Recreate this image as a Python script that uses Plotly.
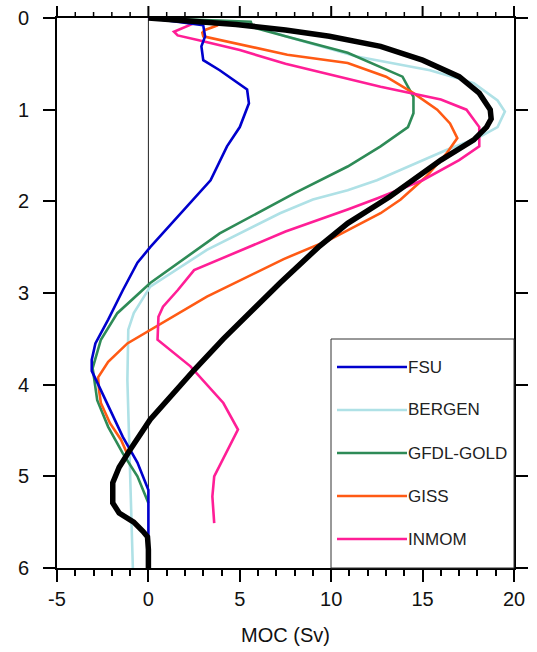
import plotly.graph_objects as go

# Depth (km) and MOC (Sv) for each model
obs_depth = [0, 0.03, 0.07, 0.13, 0.2, 0.31, 0.46, 0.64, 0.82, 1.0, 1.1, 1.19, 1.33, 1.55, 1.77, 1.95, 2.24, 2.5, 2.89, 3.2, 3.5, 3.84, 4.1, 4.38, 4.71, 4.9, 5.07, 5.29, 5.4, 5.5, 5.6, 5.66, 5.8, 6.0]
obs_moc = [0, 2.5, 4.8, 7.5, 9.9, 12.7, 15.0, 17.0, 18.1, 18.7, 18.75, 18.5, 17.8, 16.0, 14.5, 13.2, 10.9, 9.3, 7.2, 5.6, 4.1, 2.5, 1.3, 0.1, -1.0, -1.6, -1.95, -1.95, -1.6, -0.8, -0.3, -0.05, 0, 0]

fsu_depth = [0, 0.08, 0.2, 0.31, 0.46, 0.57, 0.78, 0.93, 1.19, 1.4, 1.77, 2.13, 2.5, 2.67, 2.97, 3.29, 3.55, 3.73, 3.85, 4.06, 4.27, 4.57, 4.85, 5.15, 6.0]
fsu_moc = [0, 3.0, 3.1, 2.9, 3.0, 3.9, 5.4, 5.5, 5.0, 4.3, 3.4, 1.75, 0.1, -0.6, -1.4, -2.2, -2.9, -3.1, -3.1, -2.6, -2.1, -1.4, -0.6, 0, 0]

bergen_depth = [0, 0.06, 0.2, 0.42, 0.57, 0.71, 0.9, 1.02, 1.19, 1.3, 1.44, 1.62, 1.77, 1.88, 1.98, 2.13, 2.53, 2.93, 3.22, 3.4, 3.95, 6.0]
bergen_moc = [0, 5.4, 7.5, 11.4, 15.4, 17.8, 19.1, 19.5, 19.1, 18.1, 16.3, 14.2, 12.5, 10.9, 9.0, 7.2, 3.2, 0.1, -0.8, -1.1, -1.15, -0.85]

gfdl_depth = [0, 0.04, 0.1, 0.2, 0.38, 0.64, 0.86, 1.04, 1.19, 1.4, 1.62, 1.91, 2.35, 2.89, 3.22, 3.51, 3.82, 4.17, 4.46, 4.75, 5.0, 5.29]
gfdl_moc = [0, 5.6, 5.7, 7.5, 10.9, 13.9, 14.5, 14.5, 14.2, 12.7, 10.9, 8.0, 3.9, 0.1, -1.7, -2.6, -3.05, -2.8, -2.2, -1.4, -0.6, 0]

giss_depth = [0, 0.04, 0.04, 0.08, 0.13, 0.16, 0.2, 0.4, 0.49, 0.64, 0.82, 1.0, 1.15, 1.31, 1.48, 1.73, 1.98, 2.13, 2.42, 2.63, 3.04, 3.4, 3.55, 3.75, 3.92, 4.06, 4.2, 4.42, 4.6, 4.78]
giss_moc = [0, 2.7, 3.55, 3.8, 3.1, 2.95, 3.0, 7.6, 10.9, 13.0, 14.5, 15.8, 16.5, 16.9, 16.3, 15.2, 13.8, 12.7, 9.9, 7.4, 3.2, 0.1, -1.15, -2.2, -2.75, -2.7, -2.6, -2.1, -1.5, -1.1]

inmom_depth = [0, 0.04, 0.15, 0.19, 0.24, 0.35, 0.5, 0.75, 0.89, 1.0, 1.19, 1.4, 1.55, 1.77, 1.97, 2.09, 2.33, 2.75, 2.97, 3.15, 3.26, 3.51, 3.8, 4.2, 4.49, 5.0, 5.22, 5.51]
inmom_moc = [0, 2.7, 1.4, 1.6, 2.7, 5.0, 7.5, 12.7, 16.0, 17.4, 18.1, 18.1, 17.0, 15.0, 12.5, 10.9, 7.5, 2.5, 1.6, 0.8, 0.55, 0.5, 2.3, 4.1, 4.9, 3.6, 3.5, 3.6]

model_names = ["FSU", "BERGEN", "GFDL-GOLD", "GISS", "INMOM"]
model_colors = ["#0000CD", "#AFE1E6", "#2E8B57", "#FF5A14", "#FF1E96"]
model_x = [fsu_moc, bergen_moc, gfdl_moc, giss_moc, inmom_moc]
model_y = [fsu_depth, bergen_depth, gfdl_depth, giss_depth, inmom_depth]

x_tickvals = [-5, 0, 5, 10, 15, 20]
x_ticktext = ["-5", "0", "5", "10", "15", "20"]
x_minor_vals = list(range(-5, 21))
y_tickvals = [0, 1, 2, 3, 4, 5, 6]
X_RANGE = [-5, 20]

fig = go.Figure()

# zero reference line
fig.add_shape(type="line", xref="x", yref="y", x0=0, x1=0, y0=0, y1=6,
              line=dict(color="#222222", width=1), layer="below")

order = [1, 2, 3, 4, 0]
for i in order:
    fig.add_trace(go.Scatter(x=model_x[i], y=model_y[i], mode="lines",
                             name=model_names[i], showlegend=False,
                             line=dict(color=model_colors[i], width=2.6)))
fig.add_trace(go.Scatter(x=obs_moc, y=obs_depth, mode="lines", name="RAPID",
                         showlegend=False, line=dict(color="black", width=5.5)))

W, H = 537, 652
L, R, T, B = 57, 514, 18, 568
pw, ph = R - L, B - T
def px(xp):
    return (xp - L) / pw
def py(yp):
    return (B - yp) / ph
def xfrac(v):
    return (v - X_RANGE[0]) / (X_RANGE[1] - X_RANGE[0])

# top (mirrored) x-axis ticks
for v in x_minor_vals:
    major = v in x_tickvals
    ln = 12 if major else 6
    fig.add_shape(type="line", xref="paper", yref="paper", x0=xfrac(v), x1=xfrac(v),
                  y0=1, y1=1 + ln / ph, line=dict(color="black", width=2 if major else 1.5))

# legend box drawn in paper coordinates
fig.add_shape(type="rect", xref="paper", yref="paper", x0=px(331), x1=1, y0=0, y1=py(339),
              line=dict(color="#333333", width=1), fillcolor="white", layer="above")
entry_y = [367, 410, 453, 496, 539]
for name, col, yy in zip(model_names, model_colors, entry_y):
    fig.add_shape(type="line", xref="paper", yref="paper", x0=px(337), x1=px(407),
                  y0=py(yy), y1=py(yy), line=dict(color=col, width=2.6), layer="above")
    fig.add_annotation(xref="paper", yref="paper", x=px(406), y=py(yy), text=name,
                       showarrow=False, xanchor="left", yanchor="middle",
                       font=dict(size=17, color="#222222", family="Liberation Sans, Arial, sans-serif"))

tickfont = dict(size=20, color="#111111", family="Liberation Sans, Arial, sans-serif")
axis_common = dict(showline=True, linewidth=2, linecolor="black",
                   ticks="outside", ticklen=12, tickwidth=2, tickcolor="black",
                   showgrid=False, zeroline=False, automargin=False, tickfont=tickfont)
minor_x = dict(dtick=1, tick0=0, ticks="outside", ticklen=6, tickwidth=1.5, tickcolor="black", showgrid=False)

fig.update_layout(
    width=W, height=H,
    margin=dict(l=L, r=W - R, t=T, b=H - B),
    paper_bgcolor="white", plot_bgcolor="white",
    xaxis=dict(range=X_RANGE, tickvals=x_tickvals, ticktext=x_ticktext, mirror=True, minor=minor_x,
               title=dict(text="MOC (Sv)", standoff=19, font=tickfont), **axis_common),
    yaxis=dict(range=[6, 0], tickvals=y_tickvals, mirror="allticks", ticklabelstandoff=10,
               ticklabeloverflow="allow", **axis_common),
)

fig.write_html("out.html", config={"displayModeBar": False},
               post_script="document.body.style.margin='0';document.body.style.overflow='hidden';")
